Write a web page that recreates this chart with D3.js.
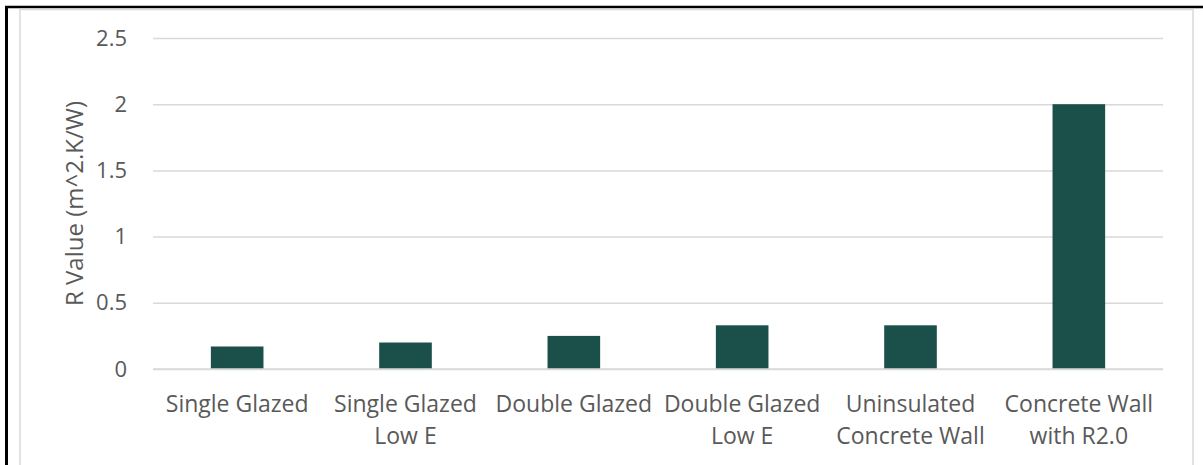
<!DOCTYPE html>
<html>
<head>
<meta charset="utf-8">
<script src="https://cdn.jsdelivr.net/npm/d3@7"></script>
<style>
  html, body { margin: 0; padding: 0; background: #fff; }
  svg { display: block; }
  text { font-family: "Open Sans", "Noto Sans", sans-serif; fill: #595959; }
</style>
</head>
<body>
<svg id="chart" width="1203" height="465"></svg>
<script>
const categories = [
  "Single Glazed",
  "Single Glazed Low E",
  "Double Glazed",
  "Double Glazed Low E",
  "Uninsulated Concrete Wall",
  "Concrete Wall with R2.0"
];
const rValues = [0.17, 0.2, 0.25, 0.33, 0.33, 2.0];
const yTicks = [0, 0.5, 1, 1.5, 2, 2.5];
const yTitle = "R Value (m^2.K/W)";

const W = 1203, H = 465;
const plot = { left: 153, right: 1163, top: 38, bottom: 369 };
const svg = d3.select("#chart");

// outer black frame (top + left)
svg.append("line").attr("x1", 5).attr("x2", W).attr("y1", 7).attr("y2", 7)
  .attr("stroke", "#000").attr("stroke-width", 2.5);
svg.append("line").attr("x1", 6.5).attr("x2", 6.5).attr("y1", 6).attr("y2", H)
  .attr("stroke", "#000").attr("stroke-width", 3);
// chart area border (light gray)
svg.append("rect").attr("x", 20).attr("y", 9.5).attr("width", 1173).attr("height", H + 10)
  .attr("fill", "#fff").attr("stroke", "#d9d9d9").attr("stroke-width", 1.5);

const y = d3.scaleLinear().domain([0, 2.5]).range([plot.bottom, plot.top]);
const x = d3.scaleBand().domain(categories).range([plot.left, plot.right])
  .paddingInner(0.6875).paddingOuter(0.34375);

// gridlines + y labels via axis
const yAxis = d3.axisLeft(y).tickValues(yTicks).tickFormat(d3.format("~g"))
  .tickSize(-(plot.right - plot.left)).tickPadding(26);
const gy = svg.append("g").attr("transform", `translate(${plot.left},0)`).call(yAxis);
gy.select(".domain").remove();
gy.selectAll(".tick line").attr("stroke", "#d9d9d9").attr("stroke-width", 1.5);
gy.selectAll(".tick text").attr("font-size", 22).attr("fill", "#595959")
  .style("font-family", '"Open Sans", "Noto Sans", sans-serif');

// bars
svg.append("g").selectAll("rect").data(rValues).join("rect")
  .attr("x", (d, i) => x(categories[i]))
  .attr("width", x.bandwidth())
  .attr("y", d => y(d))
  .attr("height", d => y(0) - y(d))
  .attr("fill", "#1b4f4a");

// redraw baseline on top
svg.append("line").attr("x1", plot.left).attr("x2", plot.right)
  .attr("y1", y(0)).attr("y2", y(0)).attr("stroke", "#d9d9d9").attr("stroke-width", 1.5);

// category labels with wrapping
const labelSize = 23;
const maxW = x.step();
const gx = svg.append("g");
categories.forEach((c, i) => {
  const cx = x(c) + x.bandwidth() / 2;
  const t = gx.append("text").attr("text-anchor", "middle").attr("font-size", labelSize);
  const words = c.split(" ");
  let lines = [], cur = [];
  const probe = gx.append("text").attr("font-size", labelSize);
  words.forEach(w => {
    const test = cur.concat([w]).join(" ");
    probe.text(test);
    if (probe.node().getComputedTextLength() > maxW - 4 && cur.length) {
      lines.push(cur.join(" ")); cur = [w];
    } else cur.push(w);
  });
  lines.push(cur.join(" "));
  probe.remove();
  lines.forEach((ln, k) => {
    t.append("tspan").attr("x", cx).attr("y", 412 + k * 31.6).text(ln);
  });
});

// y title
svg.append("text")
  .attr("transform", `translate(83,203.5) rotate(-90)`)
  .attr("text-anchor", "middle")
  .attr("font-size", 24)
  .text(yTitle);
</script>
</body>
</html>
